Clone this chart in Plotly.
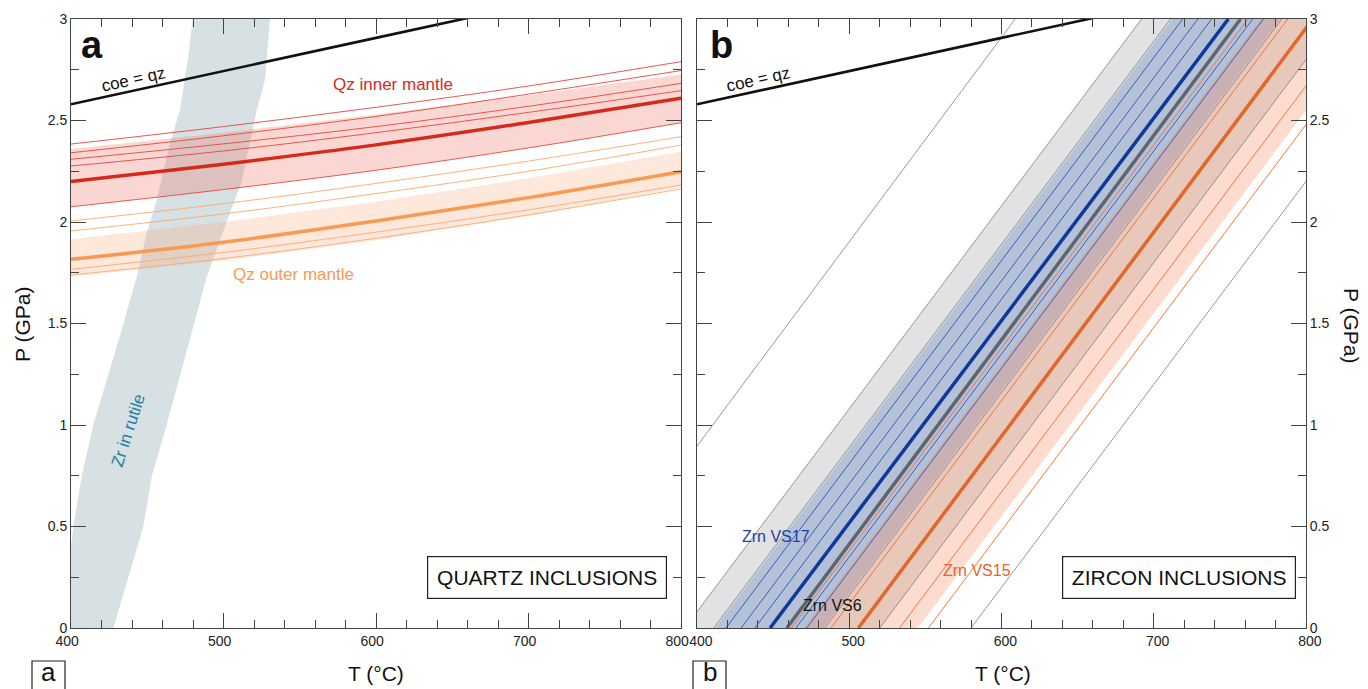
import plotly.graph_objects as go

W, H = 1368, 689
FONT = "Liberation Sans, Arial, Helvetica, sans-serif"

# ---------------- panel a : quartz inclusions ----------------
T_GRID = [400, 500, 600, 700, 800]

COE_QZ_T = [400, 500, 600, 700]
COE_QZ_P = [2.58, 2.745, 2.907, 3.07]

QZ_INNER_MAIN = [2.20, 2.285, 2.38, 2.49, 2.61]
QZ_INNER_THIN = [
    [2.384, 2.47, 2.565, 2.67, 2.79],
    [2.341, 2.425, 2.52, 2.63, 2.746],
    [2.309, 2.385, 2.47, 2.57, 2.683],
    [2.276, 2.35, 2.44, 2.54, 2.647],
    [2.075, 2.16, 2.255, 2.365, 2.489],
]
QZ_INNER_BAND_HI = [2.36, 2.44, 2.53, 2.625, 2.727]
QZ_INNER_BAND_LO = [2.075, 2.16, 2.255, 2.365, 2.489]

QZ_OUTER_MAIN = [1.816, 1.90, 2.005, 2.12, 2.248]
QZ_OUTER_THIN = [
    [2.005, 2.09, 2.19, 2.30, 2.42],
    [1.956, 2.04, 2.14, 2.25, 2.379],
    [1.767, 1.85, 1.95, 2.06, 2.182],
    [1.739, 1.82, 1.92, 2.035, 2.163],
]
QZ_OUTER_BAND_HI = [1.915, 2.0, 2.1, 2.215, 2.346]
QZ_OUTER_BAND_LO = [1.73, 1.81, 1.91, 2.03, 2.17]

# Zr-in-rutile thermometer field (left edge top->bottom, right edge bottom->top)
ZR_LEFT_T = [479.8, 476.9, 471.5, 464.9, 456.2, 449.6, 443.1, 433.2, 414.6, 407.0, 401.5, 394.0]
ZR_LEFT_P = [3.0, 2.815, 2.552, 2.388, 2.108, 1.944, 1.73, 1.468, 1.0, 0.745, 0.5, 0.0]
ZR_RIGHT_T = [427.8, 447.4, 452.9, 462.7, 479.6, 489.0, 502.0, 512.0, 521.8, 527.2, 530.5]
ZR_RIGHT_P = [0.0, 0.5, 0.745, 1.0, 1.468, 1.73, 2.0, 2.2, 2.552, 2.7, 3.0]

# ---------------- panel b : zircon inclusions ----------------
# isomekes given as temperature at 0 GPa and at 3 GPa
ZRN_P = [0, 3]

VS6_BAND_LO = [392, 692]
VS6_BAND_HI = [520, 820]
VS6_MAIN = [459, 757]
VS6_THIN = [[311, 609], [392, 692], [411, 711], [484, 784], [520, 820], [580, 880]]

VS17_BAND_LO = [412, 712]
VS17_BAND_HI = [483, 783]
VS17_MAIN = [448, 749]
VS17_THIN = [[419, 719], [429, 729], [438, 738], [465, 765], [472, 772]]

VS15_BAND_LO = [470, 770]
VS15_BAND_HI = [545, 845]
VS15_MAIN = [506, 804.5]
VS15_THIN = [[462, 762], [488, 788], [533, 833], [552, 852]]

# colours
RED_MAIN, RED_THIN, RED_FILL = "#d42a1a", "#e8453c", "rgba(240,110,100,0.28)"
ORA_MAIN, ORA_THIN, ORA_FILL = "#f89a52", "#f9aa70", "rgba(250,160,110,0.25)"
ZR_FILL = "#d7e0e2"
BLUE_MAIN, BLUE_THIN, BLUE_FILL = "#0b3a9c", "#2456b8", "rgba(127,154,202,0.45)"
GRAY_MAIN, GRAY_THIN, GRAY_FILL = "#5d6670", "#7d7d7d", "rgba(160,160,160,0.30)"
OR2_MAIN, OR2_THIN, OR2_FILL = "#e0682c", "#f06a30", "rgba(248,140,100,0.30)"

fig = go.Figure()


def line(x, y, color, width, xa="x", ya="y", shape="spline"):
    fig.add_trace(go.Scatter(x=x, y=y, mode="lines", xaxis=xa, yaxis=ya,
                             line=dict(color=color, width=width, shape=shape),
                             hoverinfo="skip", showlegend=False))


def band(x_lo, y_lo, x_hi, y_hi, color, xa="x", ya="y"):
    fig.add_trace(go.Scatter(x=list(x_lo) + list(x_hi)[::-1], y=list(y_lo) + list(y_hi)[::-1],
                             mode="lines", fill="toself", fillcolor=color,
                             line=dict(width=0, color=color), xaxis=xa, yaxis=ya,
                             hoverinfo="skip", showlegend=False))


# --- panel a ---
band(ZR_LEFT_T, ZR_LEFT_P, ZR_RIGHT_T[::-1], ZR_RIGHT_P[::-1], ZR_FILL)
band(T_GRID, QZ_OUTER_BAND_LO, T_GRID, QZ_OUTER_BAND_HI, ORA_FILL)
band(T_GRID, QZ_INNER_BAND_LO, T_GRID, QZ_INNER_BAND_HI, RED_FILL)
for ys in QZ_OUTER_THIN:
    line(T_GRID, ys, ORA_THIN, 0.9)
line(T_GRID, QZ_OUTER_MAIN, ORA_MAIN, 3.5)
for ys in QZ_INNER_THIN:
    line(T_GRID, ys, RED_THIN, 0.9)
line(T_GRID, QZ_INNER_MAIN, RED_MAIN, 3.5)
line(COE_QZ_T, COE_QZ_P, "#111111", 2.6, shape="linear")

# --- panel b ---
band(VS6_BAND_LO, ZRN_P, VS6_BAND_HI, ZRN_P, GRAY_FILL, "x2", "y2")
band(VS17_BAND_LO, ZRN_P, VS17_BAND_HI, ZRN_P, BLUE_FILL, "x2", "y2")
band(VS15_BAND_LO, ZRN_P, VS15_BAND_HI, ZRN_P, OR2_FILL, "x2", "y2")
for ts in VS6_THIN:
    line(ts, ZRN_P, GRAY_THIN, 0.8, "x2", "y2", "linear")
for ts in VS17_THIN:
    line(ts, ZRN_P, BLUE_THIN, 0.9, "x2", "y2", "linear")
for ts in VS15_THIN:
    line(ts, ZRN_P, OR2_THIN, 0.9, "x2", "y2", "linear")
line(VS15_MAIN, ZRN_P, OR2_MAIN, 3.5, "x2", "y2", "linear")
line(VS6_MAIN, ZRN_P, GRAY_MAIN, 3.5, "x2", "y2", "linear")
line(VS17_MAIN, ZRN_P, BLUE_MAIN, 3.5, "x2", "y2", "linear")
line(COE_QZ_T, COE_QZ_P, "#111111", 2.6, "x2", "y2", "linear")

# --- axes (plain tick styling from the "none" template) ---
TICKFONT = dict(family=FONT, size=14, color="#222222")
ydom = [(H - 628) / H, (H - 19) / H]
NBSP2 = "\u00a0\u00a0"


def xaxis(dom, anchor, **label_pad):
    return dict(domain=dom, range=[400, 800], anchor=anchor, dtick=100,
                ticks="inside", ticklen=15, showline=True, mirror="ticks",
                showgrid=False, zeroline=False, tickfont=TICKFONT, **label_pad,
                minor=dict(ticks="inside", ticklen=8, dtick=20))


def yaxis(anchor, side):
    return dict(domain=ydom, range=[0, 3], anchor=anchor, side=side, dtick=0.5,
                ticks="inside", ticklen=15, showline=True, mirror="ticks",
                showgrid=False, zeroline=False, tickfont=TICKFONT,
                minor=dict(ticks="inside", ticklen=8, dtick=0.25))


fig.update_layout(
    template="none",
    width=W, height=H, margin=dict(l=0, r=0, t=0, b=0),
    paper_bgcolor="white", plot_bgcolor="white", showlegend=False,
    xaxis=xaxis([71 / W, 681 / W], "y", ticksuffix=NBSP2),
    yaxis=yaxis("x", "left"),
    xaxis2=xaxis([697 / W, 1306 / W], "y2", tickprefix=NBSP2),
    yaxis2=yaxis("x2", "right"),
)


def note(text, x, y, xref, yref, size, color="#111111", angle=0, **kw):
    fig.add_annotation(text=text, x=x, y=y, xref=xref, yref=yref, showarrow=False,
                       xanchor="center", yanchor="middle", textangle=angle,
                       font=dict(family=FONT, size=size, color=color), **kw)


def px(xp):
    return xp / W


def py(yp):
    return 1 - yp / H


# panel a labels
note("<b>a</b>", px(92), py(45), "paper", "paper", 38)
note("coe = qz", 440.7, 2.704, "x", "y", 17, angle=-12.4)
note("Qz inner mantle", 611.1, 2.675, "x", "y", 17, RED_MAIN)
note("Qz outer mantle", 545.6, 1.739, "x", "y", 17, ORA_MAIN)
note("Zr in rutile", 437.4, 0.975, "x", "y", 17, "#1f7fa5", angle=-72)
note("QUARTZ INCLUSIONS", 712.1, 0.249, "x", "y", 21, bordercolor="#222222",
     borderwidth=1.2, borderpad=0, width=238, height=41, bgcolor="white")

# panel b labels
note("<b>b</b>", px(721), py(45), "paper", "paper", 38)
note("coe = qz", 440.1, 2.70, "x2", "y2", 17, angle=-12.4)
note("Zrn VS17", 451.9, 0.451, "x2", "y2", 16, "#1f3ea8")
note("Zrn VS6", 489.3, 0.113, "x2", "y2", 16, "#111111")
note("Zrn VS15", 584.2, 0.283, "x2", "y2", 16, "#e8642a")
note("ZIRCON INCLUSIONS", 716.6, 0.249, "x2", "y2", 21, bordercolor="#222222",
     borderwidth=1.2, borderpad=0, width=232, height=41, bgcolor="white")

# axis titles
note("P (GPa)", px(22), py(325), "paper", "paper", 21, angle=-90)
note("P (GPa)", px(1352), py(325), "paper", "paper", 21, angle=90)
note("T (°C)", px(376), py(673), "paper", "paper", 21)
note("T (°C)", px(1003), py(673), "paper", "paper", 21)

# sub-figure tags: framed letters at the bottom edge
for letter, x0, x1 in (("a", 32, 65), ("b", 693, 726)):
    fig.add_shape(type="rect", xref="paper", yref="paper",
                  x0=px(x0), x1=px(x1), y0=py(700), y1=py(661),
                  line=dict(color="#222222", width=1.2), fillcolor="rgba(0,0,0,0)")
    note(letter, px((x0 + x1) / 2), py(672), "paper", "paper", 26)

fig.write_html("out.html")
